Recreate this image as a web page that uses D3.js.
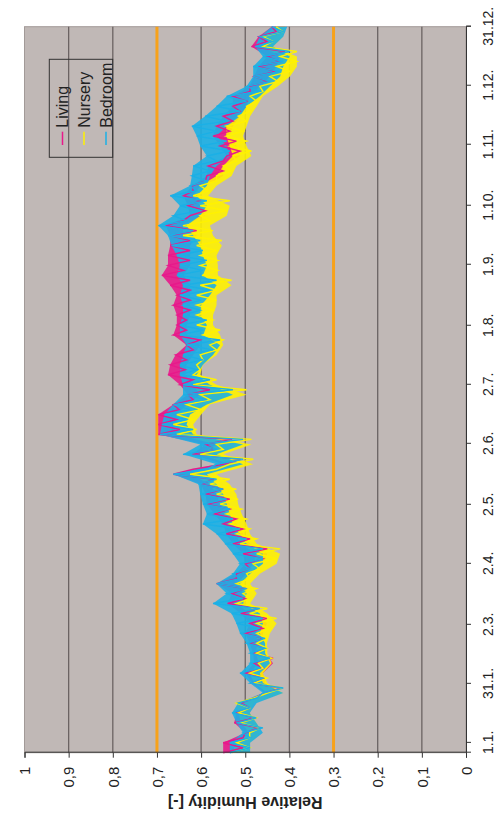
<!DOCTYPE html>
<html>
<head>
<meta charset="utf-8">
<script src="https://cdn.jsdelivr.net/npm/d3@7"></script>
<style>
  body { margin: 0; background: #fff; }
  svg text { font-family: "Liberation Sans", Arial, sans-serif; fill: #222; }
</style>
</head>
<body>
<div id="chart"></div>
<script>
// series names + colours
const seriesNames = ["Living", "Nursery", "Bedroom"];
const seriesColors = ["#e8198b", "#fff200", "#1bb0e6"];

// time axis ticks (labels)
const tickDates = ["2005-01-01", "2005-01-31", "2005-03-02", "2005-04-02", "2005-05-02", "2005-06-02",
    "2005-07-02", "2005-08-01", "2005-09-01", "2005-10-01", "2005-11-01", "2005-12-01", "2005-12-31"];
const humidityTicks = [0, 0.1, 0.2, 0.3, 0.4, 0.5, 0.6, 0.7, 0.8, 0.9, 1];
const limitLines = [0.3, 0.7];

// hourly data is too dense, so keep the band (max / min) every ~5 days
const livingHi = [.55, .55, .50, .525, .52, .51, .455, .485, .50, .48, .482, .49, .50, .489, .51, .54, .53, .565, .52, .50,
    .505, .528, .543, .55, .57, .587, .59, .60, .663, .55, .62, .59, .697, .697, .697, .663, .63, .648, .675, .67,
    .658, .633, .663, .655, .655, .663, .655, .67, .689, .675, .675, .67, .67, .68, .625, .63, .64, .62, .587, .584,
    .542, .557, .573, .565, .55, .528, .528, .49, .48, .47, .45, .486, .47, .44];
const livingLo = [.505, .505, .47, .48, .49, .48, .42, .455, .46, .437, .455, .46, .46, .451, .47, .50, .50, .52, .49, .46,
    .45, .489, .505, .52, .535, .535, .55, .57, .618, .51, .57, .53, .648, .655, .65, .618, .58, .618, .636, .633,
    .618, .602, .633, .633, .625, .625, .625, .625, .64, .625, .625, .625, .61, .64, .59, .60, .618, .59, .55, .55,
    .512, .52, .535, .528, .512, .497, .489, .45, .43, .42, .41, .451, .43, .41];
const nurseryHi = [.53, .52, .49, .51, .515, .52, .45, .48, .49, .47, .475, .474, .474, .474, .49, .52, .505, .52, .497, .482,
    .474, .512, .52, .535, .543, .557, .565, .58, .625, .535, .602, .565, .655, .663, .655, .633, .602, .618, .618, .61,
    .602, .58, .596, .61, .61, .61, .61, .602, .598, .602, .602, .61, .641, .641, .602, .602, .618, .602, .565, .55,
    .528, .535, .543, .543, .516, .497, .489, .467, .444, .429, .421, .46, .46, .43];
const nurseryLo = [.49, .49, .465, .475, .49, .48, .415, .45, .46, .44, .45, .451, .444, .429, .45, .489, .474, .489, .467, .429,
    .421, .474, .489, .497, .508, .516, .52, .535, .565, .482, .55, .486, .61, .618, .60, .58, .497, .565, .602, .596,
    .565, .55, .557, .573, .573, .565, .565, .531, .562, .562, .565, .553, .573, .58, .542, .535, .584, .565, .531, .52,
    .486, .497, .505, .497, .489, .474, .46, .426, .399, .383, .383, .437, .415, .41];
const bedroomHi = [.535, .535, .505, .52, .53, .516, .46, .489, .512, .489, .489, .497, .512, .52, .531, .573, .542, .565, .528, .512,
    .528, .546, .565, .596, .587, .596, .602, .606, .663, .565, .641, .602, .693, .689, .683, .663, .641, .641, .648, .648,
    .641, .633, .648, .648, .641, .641, .648, .641, .655, .648, .655, .667, .675, .697, .663, .648, .67, .625, .621, .618,
    .587, .602, .61, .621, .591, .565, .542, .497, .482, .482, .46, .478, .467, .44];
const bedroomLo = [.489, .489, .46, .475, .49, .474, .414, .46, .467, .444, .455, .455, .467, .46, .467, .505, .497, .512, .489, .46,
    .46, .497, .512, .528, .535, .542, .55, .565, .587, .505, .565, .505, .618, .633, .625, .587, .528, .58, .61, .596,
    .573, .557, .595, .587, .602, .60, .58, .565, .596, .587, .596, .602, .618, .633, .602, .587, .61, .587, .58, .565,
    .535, .542, .565, .542, .512, .497, .467, .444, .421, .414, .399, .437, .414, .405];

const startDate = new Date(2004, 11, 27);
const endDate = new Date(2005, 11, 31);

// plot size in the un-rotated frame (time along x, humidity along y)
const svgW = 501, svgH = 820;
const plotW = 726, plotH = 441.5;

const svg = d3.select("#chart").append("svg")
    .attr("width", svgW)
    .attr("height", svgH);

// the whole chart is turned a quarter turn anticlockwise
const g = svg.append("g")
    .attr("transform", "translate(24.5,752.7) rotate(-90)");

const x = d3.scaleTime().domain([startDate, endDate]).range([0, plotW]);
const y = d3.scaleLinear().domain([0, 1]).range([plotH, 0]);

// sample dates: evenly spaced over the year
const n = livingHi.length;
const step = (endDate - startDate) / (n - 1);
const sampleDates = d3.range(n).map(i => new Date(startDate.getTime() + i * step));

const series = [
    { name: seriesNames[0], hi: livingHi, lo: livingLo },
    { name: seriesNames[1], hi: nurseryHi, lo: nurseryLo },
    { name: seriesNames[2], hi: bedroomHi, lo: bedroomLo }
];

// plot background
g.append("rect")
    .attr("width", plotW)
    .attr("height", plotH)
    .attr("fill", "#c0b8b6")
    .attr("stroke", "#a29a98")
    .attr("stroke-width", 1);

// grid lines
g.selectAll(".grid")
    .data(humidityTicks.filter(d => d > 0 && d < 1 && !limitLines.includes(d)))
    .enter()
    .append("line")
    .attr("class", "grid")
    .attr("x1", 0)
    .attr("x2", plotW)
    .attr("y1", d => y(d))
    .attr("y2", d => y(d))
    .attr("stroke", "#6b6363")
    .attr("stroke-width", 1.3);

// comfort limits
g.selectAll(".limit")
    .data(limitLines)
    .enter()
    .append("line")
    .attr("class", "limit")
    .attr("x1", 0)
    .attr("x2", plotW)
    .attr("y1", d => y(d))
    .attr("y2", d => y(d))
    .attr("stroke", "#f7a21b")
    .attr("stroke-width", 3);

// data: bands first, then a zig-zag between max and min for each series on top
const area = d3.area()
    .x((d, i) => x(sampleDates[i]))
    .y0(d => y(d[0]))
    .y1(d => y(d[1]));

const line = d3.line()
    .x(d => x(d.date))
    .y(d => y(d.v));

series.forEach((s, k) => {
    const pts = s.hi.map((h, i) => [s.lo[i], h]);
    g.append("path")
        .datum(pts)
        .attr("d", area)
        .attr("fill", seriesColors[k])
        .attr("fill-opacity", 0.9);
});

series.forEach((s, k) => {
    // max at the sample date, min half a step later
    const zig = [];
    s.hi.forEach((h, i) => {
        zig.push({ date: sampleDates[i], v: h });
        if (i < n - 1) zig.push({ date: new Date(sampleDates[i].getTime() + step / 2), v: s.lo[i] });
    });
    g.append("path")
        .datum(zig)
        .attr("d", line)
        .attr("fill", "none")
        .attr("stroke", seriesColors[k])
        .attr("stroke-width", 1.4);
});

// time axis (ends up on the right)
const xAxis = g.append("g")
    .attr("transform", `translate(0,${plotH})`)
    .call(d3.axisBottom(x)
        .tickValues(tickDates.map(d => d3.timeParse("%Y-%m-%d")(d)))
        .tickFormat(d3.timeFormat("%-d.%-m."))
        .tickSize(5));
xAxis.select(".domain").attr("stroke", "#333");
xAxis.selectAll(".tick line").attr("stroke", "#333");
xAxis.selectAll("text")
    .attr("y", 22)
    .attr("dy", "0.35em")
    .style("font-size", "14px")
    .attr("fill", "#222");

// humidity axis (ends up at the bottom)
const fmt = d => (d === 0 || d === 1) ? String(d) : d3.format(".1f")(d).replace(".", ",");
const yAxis = g.append("g")
    .call(d3.axisLeft(y)
        .tickValues(humidityTicks)
        .tickFormat(fmt)
        .tickSize(5));
yAxis.select(".domain").attr("stroke", "#333");
yAxis.selectAll(".tick line").attr("stroke", "#333");
yAxis.selectAll("text")
    .attr("x", -14)
    .attr("dy", "0.35em")
    .style("font-size", "15px")
    .attr("fill", "#222");

// axis title
g.append("text")
    .attr("transform", `translate(-50,${plotH / 2}) rotate(-90)`)
    .attr("text-anchor", "middle")
    .attr("dy", "0.35em")
    .style("font-size", "16px")
    .style("font-weight", "bold")
    .text("Relative Humidity [-]");

// legend
const legend = g.append("g");
legend.append("rect")
    .attr("x", 595.4)
    .attr("y", 24.8)
    .attr("width", 98)
    .attr("height", 63.4)
    .attr("fill", "none")
    .attr("stroke", "#333")
    .attr("stroke-width", 1);

const legendY = [38, 59.5, 81.5];
seriesNames.forEach((name, k) => {
    legend.append("line")
        .attr("x1", 607.7)
        .attr("x2", 621)
        .attr("y1", legendY[k])
        .attr("y2", legendY[k])
        .attr("stroke", seriesColors[k])
        .attr("stroke-width", 1.5);
    legend.append("text")
        .attr("x", 625)
        .attr("y", legendY[k])
        .attr("dy", "0.35em")
        .style("font-size", "16px")
        .text(name);
});
</script>
</body>
</html>
